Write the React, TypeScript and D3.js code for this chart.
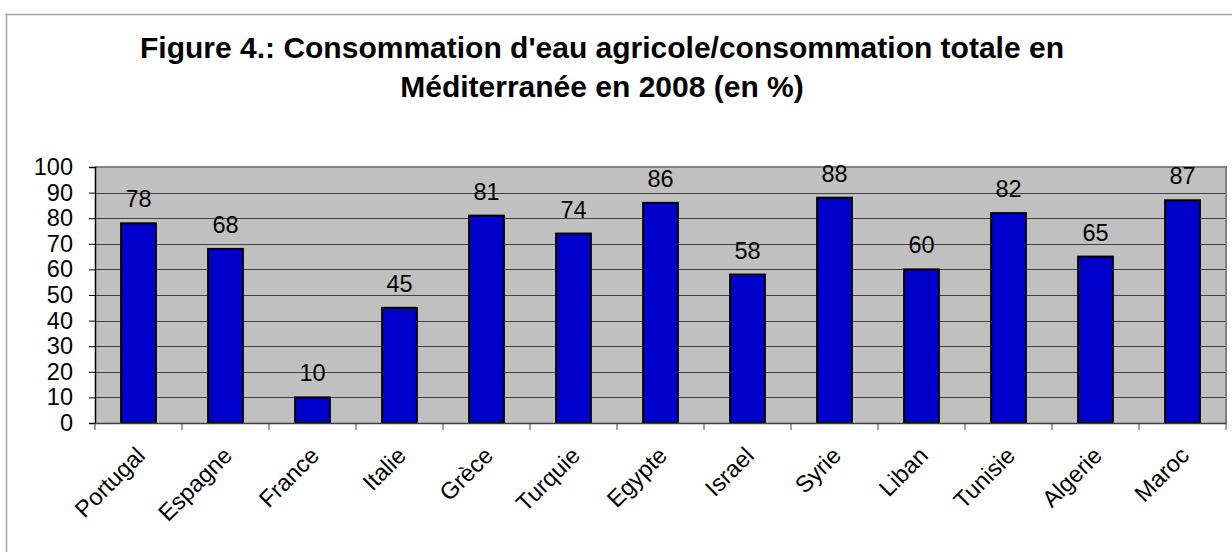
import { useEffect, useRef } from 'react';
import * as d3 from 'd3';

const countries = [
  'Portugal', 'Espagne', 'France', 'Italie', 'Grèce', 'Turquie', 'Egypte',
  'Israel', 'Syrie', 'Liban', 'Tunisie', 'Algerie', 'Maroc',
];
const shares = [78, 68, 10, 45, 81, 74, 86, 58, 88, 60, 82, 65, 87];
const yTicks = [0, 10, 20, 30, 40, 50, 60, 70, 80, 90, 100];
const titleLines = [
  "Figure 4.: Consommation d'eau agricole/consommation totale en",
  'Méditerranée en 2008 (en %)',
];

export default function App() {
  const svgRef = useRef<SVGSVGElement>(null);

  useEffect(() => {
    if (!svgRef.current) return;
    const width = 1232;
    const height = 552;
    const svg = d3.select(svgRef.current);
    svg.selectAll('*').remove();
    svg.attr('width', width).attr('height', height);

    const font = 'Arial, "Liberation Sans", sans-serif';
    const left = 95;
    const right = 1226;
    const top = 167;
    const bottom = 423;
    const labelSize = '23.5px';

    // outer frame
    svg
      .append('rect')
      .attr('x', 6.5)
      .attr('y', 14.5)
      .attr('width', 1240)
      .attr('height', 560)
      .attr('fill', '#fff')
      .attr('stroke', '#a0a0a0')
      .attr('stroke-width', 1.5);

    // title
    const title = svg
      .append('text')
      .attr('text-anchor', 'middle')
      .attr('font-family', font)
      .attr('font-weight', 'bold')
      .attr('font-size', '30px')
      .attr('fill', '#000');
    titleLines.forEach((line, i) => {
      title
        .append('tspan')
        .attr('x', 602)
        .attr('y', 58 + i * 39)
        .text(line);
    });

    const x = d3.scaleBand().domain(countries).range([left, right]).paddingInner(0.6).paddingOuter(0.3);
    const y = d3.scaleLinear().domain([0, 100]).range([bottom, top]);

    // plot background
    svg
      .append('rect')
      .attr('x', left)
      .attr('y', top)
      .attr('width', right - left)
      .attr('height', bottom - top)
      .attr('fill', '#c0c0c0');

    // gridlines
    svg
      .selectAll('.grid')
      .data(yTicks.filter((t) => t > 0 && t < 100))
      .enter()
      .append('line')
      .attr('x1', left)
      .attr('x2', right)
      .attr('y1', (d) => Math.round(y(d)) + 0.5)
      .attr('y2', (d) => Math.round(y(d)) + 0.5)
      .attr('stroke', '#404040')
      .attr('stroke-width', 1);

    // plot border (top, right)
    svg
      .append('path')
      .attr('d', `M${left},${top} H${right} V${bottom}`)
      .attr('fill', 'none')
      .attr('stroke', '#808080')
      .attr('stroke-width', 2);

    // bars
    svg
      .selectAll('.bar')
      .data(shares)
      .enter()
      .append('rect')
      .attr('x', (d, i) => x(countries[i])!)
      .attr('y', (d) => y(d))
      .attr('width', x.bandwidth())
      .attr('height', (d) => bottom - y(d))
      .attr('fill', '#0000cc')
      .attr('stroke', '#000')
      .attr('stroke-width', 2);

    // value labels
    svg
      .selectAll('.val')
      .data(shares)
      .enter()
      .append('text')
      .attr('x', (d, i) => x(countries[i])! + x.bandwidth() / 2)
      .attr('y', (d) => y(d) - 16)
      .attr('text-anchor', 'middle')
      .attr('font-family', font)
      .attr('font-size', labelSize)
      .attr('fill', '#000')
      .text((d) => d);

    // y axis
    const yAxis = svg
      .append('g')
      .attr('transform', `translate(${left},0)`)
      .call(d3.axisLeft(y).tickValues(yTicks).tickSize(6).tickPadding(16));
    yAxis.select('.domain').attr('stroke', '#000').attr('stroke-width', 1.5);
    yAxis.selectAll('line').attr('stroke', '#000');
    yAxis
      .selectAll('text')
      .attr('font-family', font)
      .attr('font-size', labelSize)
      .attr('fill', '#000');

    // x axis
    const xAxis = svg
      .append('g')
      .attr('transform', `translate(0,${bottom})`)
      .call(d3.axisBottom(x).tickSize(0).tickFormat(() => ''));
    xAxis.select('.domain').attr('stroke', '#404040').attr('stroke-width', 1.5);

    // category boundary ticks
    const step = x.step();
    svg
      .selectAll('.xtick')
      .data(d3.range(countries.length + 1))
      .enter()
      .append('line')
      .attr('x1', (i) => left + i * step)
      .attr('x2', (i) => left + i * step)
      .attr('y1', bottom)
      .attr('y2', bottom + 7)
      .attr('stroke', '#404040')
      .attr('stroke-width', 1);

    // rotated category labels
    svg
      .selectAll('.xlab')
      .data(countries)
      .enter()
      .append('text')
      .attr('transform', (d) => `translate(${x(d)! + x.bandwidth() / 2 + 8},${bottom + 34}) rotate(-45)`)
      .attr('text-anchor', 'end')
      .attr('font-family', font)
      .attr('font-size', labelSize)
      .attr('fill', '#000')
      .text((d) => d);
  }, []);

  return (
    <div style={{ position: 'absolute', left: 0, top: 0 }}>
      <svg ref={svgRef}></svg>
    </div>
  );
}
